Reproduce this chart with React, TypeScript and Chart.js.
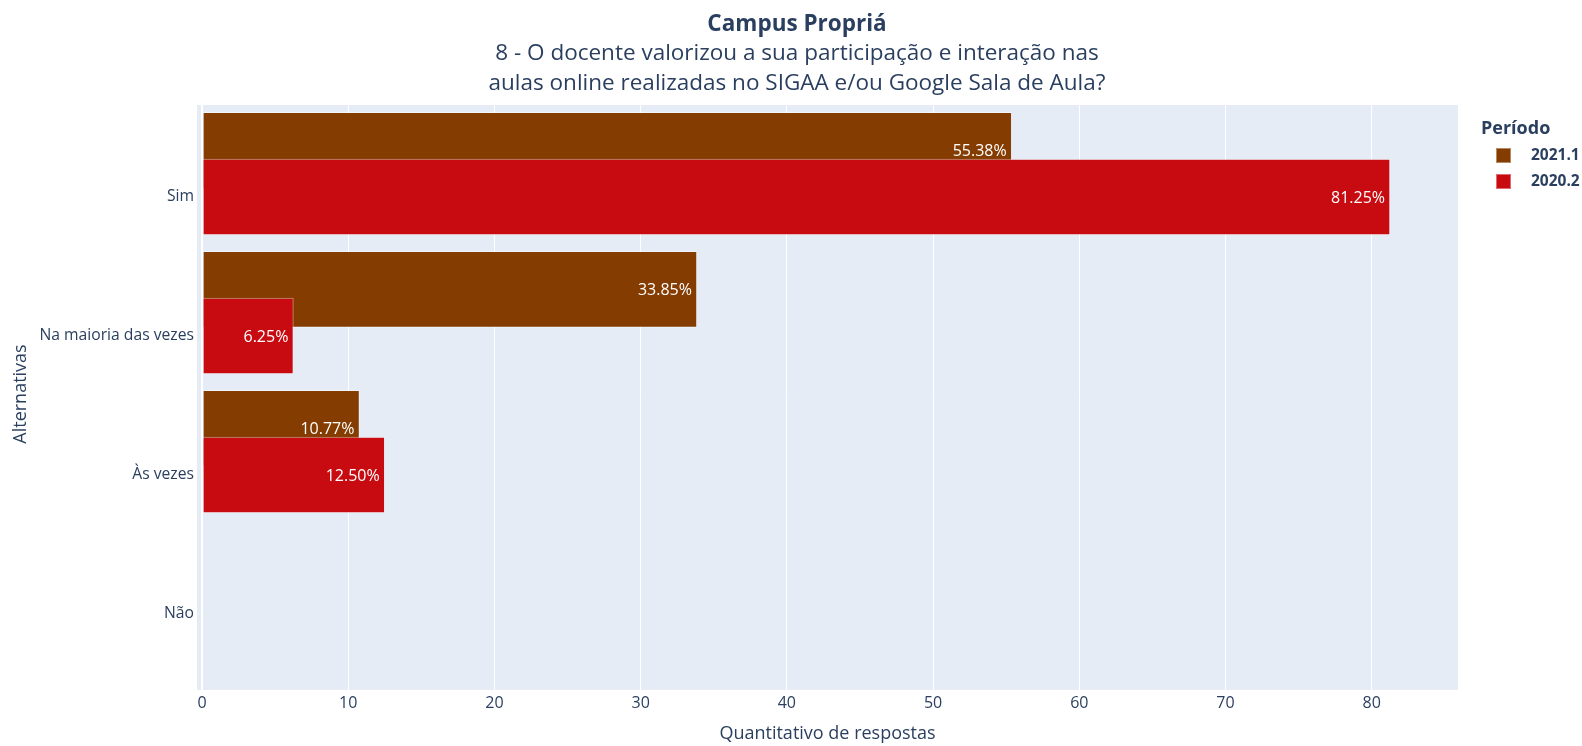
import React, { useEffect, useRef } from "react";
import { Chart, registerables } from "chart.js";

Chart.register(...registerables);

// ---- data ----
const categories = ["Sim", "Na maioria das vezes", "Às vezes", "Não"];
const seriesNames = ["2021.1", "2020.2"];
const values2021_1 = [55.38, 33.85, 10.77, 0];
const values2020_2 = [81.25, 6.25, 12.5, 0];
const xTickValues = [0, 10, 20, 30, 40, 50, 60, 70, 80];

const titleText = "Campus Propriá";
const subtitleLines = [
  "8 - O docente valorizou a sua participação e interação nas",
  "aulas online realizadas no SIGAA e/ou Google Sala de Aula?",
];
const xAxisTitle = "Quantitativo de respostas";
const yAxisTitle = "Alternativas";
const legendTitle = "Período";

// ---- style ----
const FONT = "'Open Sans', 'Noto Sans', sans-serif";
const TEXT_COLOR = "#2a3f5f";
const PLOT_BG = "#e5ecf6";
const COLORS = ["#843c00", "#c80b10"];
const W = 1582;
const H = 746;
const AREA = { left: 197, right: 1458, top: 105, bottom: 690 };
const BAR_OFFSET = [-0.336, 0];

const overlayPlugin = {
  id: "overlay",
  beforeDraw(chart: any) {
    const { ctx, chartArea } = chart;
    ctx.save();
    ctx.fillStyle = PLOT_BG;
    ctx.fillRect(chartArea.left, chartArea.top, chartArea.right - chartArea.left, chartArea.bottom - chartArea.top);
    ctx.restore();
  },
  afterDatasetsDraw(chart: any) {
    const { ctx } = chart;
    ctx.save();
    ctx.font = `16px ${FONT}`;
    ctx.fillStyle = "#ffffff";
    ctx.textAlign = "right";
    ctx.textBaseline = "middle";
    chart.data.datasets.forEach((ds: any, di: number) => {
      const meta = chart.getDatasetMeta(di);
      meta.data.forEach((el: any, i: number) => {
        const v = ds.data[i].x;
        if (!v) return;
        ctx.fillText(v.toFixed(2) + "%", el.x - 5, el.y + 1);
      });
    });
    ctx.restore();
  },
  afterDraw(chart: any) {
    const { ctx, chartArea } = chart;
    ctx.save();
    ctx.fillStyle = TEXT_COLOR;
    // titles
    ctx.textAlign = "center";
    ctx.textBaseline = "alphabetic";
    ctx.font = `bold 22.5px ${FONT}`;
    ctx.fillText(titleText, 797, 31);
    ctx.font = `22.5px ${FONT}`;
    ctx.fillText(subtitleLines[0], 797, 60);
    ctx.fillText(subtitleLines[1], 797, 90);
    // x axis title
    ctx.font = `18px ${FONT}`;
    ctx.fillText(xAxisTitle, (chartArea.left + chartArea.right) / 2, 739);
    // y axis title
    ctx.save();
    ctx.translate(21, 394);
    ctx.rotate(-Math.PI / 2);
    ctx.textBaseline = "middle";
    ctx.fillText(yAxisTitle, 0, 0);
    ctx.restore();
    // legend
    ctx.textAlign = "left";
    ctx.textBaseline = "middle";
    ctx.font = `bold 18px ${FONT}`;
    ctx.fillText(legendTitle, 1481, 129);
    ctx.font = `bold 15.5px ${FONT}`;
    seriesNames.forEach((name, i) => {
      const cy = 155.5 + i * 26;
      ctx.fillStyle = COLORS[i];
      ctx.fillRect(1496, cy - 7.5, 15, 15);
      ctx.strokeStyle = "rgba(255,255,255,0.4)";
      ctx.lineWidth = 1;
      ctx.strokeRect(1496.5, cy - 7, 14, 14);
      ctx.fillStyle = TEXT_COLOR;
      ctx.fillText(name, 1531, cy);
    });
    ctx.restore();
  },
};

export default function App() {
  const canvasRef = useRef<HTMLCanvasElement | null>(null);

  useEffect(() => {
    if (!canvasRef.current) return;
    const makeData = (vals: number[], k: number) =>
      categories.map((_, i) => ({ x: vals[i], y: i + BAR_OFFSET[k] }));
    const fill = (k: number) => (c: any) => (c.raw && c.raw.x ? COLORS[k] : "rgba(0,0,0,0)");
    const bw = (c: any) => (c.raw && c.raw.x ? 1 : 0);
    const chart = new Chart(canvasRef.current, {
      type: "bar",
      data: {
        datasets: [
          {
            label: seriesNames[0],
            data: makeData(values2021_1, 0),
            backgroundColor: fill(0),
            borderColor: "rgba(255,255,255,0.45)",
            borderWidth: bw,
            borderSkipped: false,
            barThickness: 76,
            order: 1,
          },
          {
            label: seriesNames[1],
            data: makeData(values2020_2, 1),
            backgroundColor: fill(1),
            borderColor: "rgba(255,255,255,0.45)",
            borderWidth: bw,
            borderSkipped: false,
            barThickness: 76,
            order: 0,
          },
        ],
      } as any,
      options: {
        indexAxis: "y",
        animation: false,
        responsive: true,
        maintainAspectRatio: false,
        grouped: false,
        layout: { padding: { top: AREA.top, right: W - AREA.right, left: 0, bottom: 0 } },
        plugins: {
          legend: { display: false },
          title: { display: false },
          tooltip: { enabled: false },
        },
        scales: {
          y: {
            type: "linear",
            reverse: true,
            offset: false,
            min: -0.662,
            max: 3.547,
            afterBuildTicks: (s: any) => {
              s.ticks = categories.map((_, i) => ({ value: i }));
            },
            afterFit: (s: any) => {
              s.width = AREA.left;
            },
            ticks: {
              callback: (v: any) => categories[v] ?? "",
              font: { family: FONT, size: 15.7 },
              color: TEXT_COLOR,
              padding: 3,
            },
            grid: { display: false, drawTicks: false },
            border: { display: false },
          },
          x: {
            type: "linear",
            offset: false,
            min: -0.34,
            max: 85.9,
            afterBuildTicks: (s: any) => {
              s.ticks = xTickValues.map((v) => ({ value: v }));
            },
            afterFit: (s: any) => {
              s.height = H - AREA.bottom;
            },
            ticks: {
              font: { family: FONT, size: 16 },
              color: TEXT_COLOR,
              padding: 4,
            },
            grid: {
              color: "#ffffff",
              lineWidth: (c: any) => (c.tick && c.tick.value === 0 ? 2 : 1),
              drawTicks: false,
            },
            border: { display: false },
          },
        },
      } as any,
      plugins: [overlayPlugin],
    });
    return () => chart.destroy();
  }, []);

  return (
    <div style={{ position: "fixed", left: 0, top: 0, width: W, height: H, background: "#fff" }}>
      <canvas ref={canvasRef} style={{ display: "block" }} />
    </div>
  );
}
